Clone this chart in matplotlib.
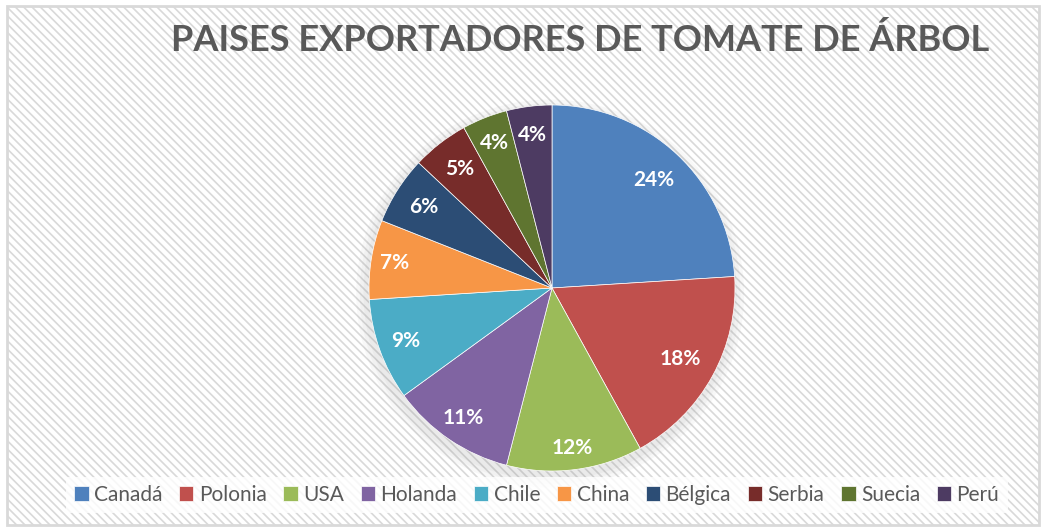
import matplotlib.pyplot as plt
from matplotlib.patches import Rectangle, Circle

# Data
paises = ['Canadá', 'Polonia', 'USA', 'Holanda', 'Chile', 'China', 'Bélgica', 'Serbia', 'Suecia', 'Perú']
porcentajes = [24, 18, 12, 11, 9, 7, 6, 5, 4, 4]
colores = ['#4F81BD', '#C0504D', '#9BBB59', '#8064A2', '#4BACC6',
           '#F79646', '#2C4D75', '#772C2A', '#5F7530', '#4D3B62']
# label distance from centre (fraction of radius), as placed in the original
dist_etiquetas = [0.81, 0.80, 0.88, 0.86, 0.85, 0.87, 0.83, 0.82, 0.85, 0.84]

plt.rcParams['hatch.color'] = '#F3F3F3'
plt.rcParams['hatch.linewidth'] = 1.2

fig = plt.figure(figsize=(10.46, 5.30), dpi=100)

# Background with light diagonal stripes and border
bg_ax = fig.add_axes([0, 0, 1, 1], zorder=-1)
bg_ax.set_axis_off()
bg_ax.set_xlim(0, 1)
bg_ax.set_ylim(0, 1)
bg_ax.add_patch(Rectangle((0.007, 0.01), 0.986, 0.978, facecolor='white',
                          edgecolor='#D9D9D9', linewidth=2, hatch='\\\\\\\\'))

# Pie axes
cx, cy, r = 552, 288, 183
ax = fig.add_axes([(cx - r) / 1046, (530 - cy - r) / 530, 2 * r / 1046, 2 * r / 530])
# soft shadow behind the pie
for k, a in enumerate([0.05, 0.05, 0.06]):
    ax.add_patch(Circle((-0.01, -0.03), 1.06 - 0.02 * k, facecolor='#808080',
                        edgecolor='none', alpha=a, zorder=0, clip_on=False))
wedges, texts, autotexts = ax.pie(
    porcentajes, colors=colores, startangle=90, counterclock=False,
    autopct='%1.0f%%', pctdistance=1.0,
    wedgeprops={'linewidth': 0.5, 'edgecolor': 'white', 'zorder': 2},
    textprops={'color': 'white', 'fontsize': 15, 'fontweight': 'bold', 'family': 'Lato'})
for t, d in zip(autotexts, dist_etiquetas):
    x, y = t.get_position()
    t.set_position((x * d, y * d))
    t.set_zorder(3)
ax.set_xlim(-1, 1)
ax.set_ylim(-1, 1)
ax.set_aspect('equal')

# Title
fig.text(0.555, 0.925, 'PAISES EXPORTADORES DE TOMATE DE ÁRBOL',
         ha='center', va='center', fontsize=26, fontweight='bold',
         color='#595959', family='Lato')

# Legend
leg = fig.legend(wedges, paises, loc='center', bbox_to_anchor=(0.513, 0.066),
                 ncol=10, frameon=True, handlelength=0.7,
                 handleheight=0.7, handletextpad=0.25, columnspacing=0.8,
                 borderpad=0.4, fancybox=False, prop={'family': 'Lato', 'size': 15})
leg.get_frame().set_facecolor('white')
leg.get_frame().set_edgecolor('none')
for t in leg.get_texts():
    t.set_color('#595959')

plt.savefig('out.png', dpi=100)
